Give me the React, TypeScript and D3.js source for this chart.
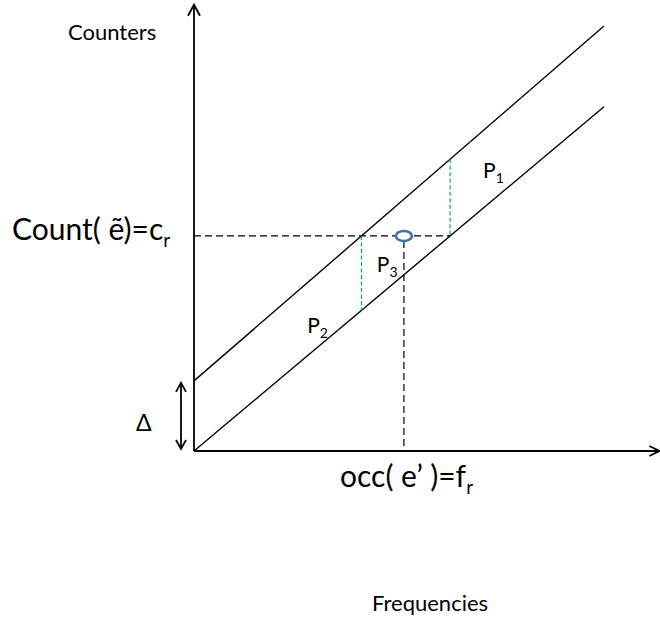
import React from "react";
import * as d3 from "d3";

const width = 660;
const height = 620;

// diagram values, in abstract units (x: frequency, y: counter)
const upperLine: [number, number][] = [
  [0, 16.5],
  [100, 100],
];
const lowerLine: [number, number][] = [
  [0, 0],
  [100, 81],
];
const deltaValue = 16.5;
const countValue = 50.6; // c_r
const freqValue = 51.2; // f_r
const axisEnds = [113.5, 105]; // x axis, y axis
const regionNames = ["1", "2", "3"];
const regionX = [70.5, 27.6, 44.6];
const regionY = [64.2, 27.8, 42.1];

const FONT = "Lato, 'Open Sans', sans-serif";

// x where a two-point line reaches height y
const xAtY = (l: [number, number][], y: number) =>
  l[0][0] + ((y - l[0][1]) * (l[1][0] - l[0][0])) / (l[1][1] - l[0][1]);
const yAtX = (l: [number, number][], x: number) =>
  l[0][1] + ((x - l[0][0]) * (l[1][1] - l[0][1])) / (l[1][0] - l[0][0]);

const App = () => {
  const x = d3.scaleLinear().domain([0, 100]).range([194, 604]);
  const y = d3.scaleLinear().domain([0, 100]).range([451, 26]);
  const line = d3
    .line<[number, number]>()
    .x((d) => x(d[0]))
    .y((d) => y(d[1]));

  const x0 = x(0);
  const y0 = y(0);
  const xEnd = x(axisEnds[0]);
  const yEnd = y(axisEnds[1]);

  // green verticals: where the c_r level crosses each line
  const leftX = xAtY(upperLine, countValue);
  const rightX = xAtY(lowerLine, countValue);
  const greens = [
    [leftX, countValue, yAtX(lowerLine, leftX)],
    [rightX, yAtX(upperLine, rightX), countValue],
  ];

  const ax = x0 - 13; // delta arrow
  const yd = y(deltaValue);

  return (
    <svg
      width={width}
      height={height}
      style={{ position: "absolute", left: 0, top: 0, background: "#fff" }}
      fontFamily={FONT}
    >
      {/* axes */}
      <g stroke="#000" strokeWidth={1.8} fill="none">
        <line x1={x0} y1={y0} x2={x0} y2={yEnd} />
        <path d={`M${x0 - 6},${yEnd + 11}L${x0},${yEnd}L${x0 + 6},${yEnd + 11}`} />
        <line x1={x0} y1={y0} x2={xEnd} y2={y0} />
        <path d={`M${xEnd - 10},${y0 - 5}L${xEnd},${y0}L${xEnd - 10},${y0 + 5}`} />
      </g>

      {/* delta double arrow */}
      <g stroke="#000" strokeWidth={1.8} fill="none">
        <line x1={ax} y1={yd + 2} x2={ax} y2={y0 - 2} />
        <path d={`M${ax - 5},${yd + 11}L${ax},${yd + 2}L${ax + 5},${yd + 11}`} />
        <path d={`M${ax - 5},${y0 - 11}L${ax},${y0 - 2}L${ax + 5},${y0 - 11}`} />
      </g>
      <text x={136} y={431} fontSize={23}>
        Δ
      </text>

      {/* the two lines */}
      <g stroke="#000" strokeWidth={1.4} fill="none">
        <path d={line(upperLine) ?? ""} />
        <path d={line(lowerLine) ?? ""} />
      </g>

      {/* dashed guides */}
      <g stroke="#000" strokeWidth={1.2} strokeDasharray="7,4" fill="none">
        <line x1={x0} y1={y(countValue)} x2={x(rightX)} y2={y(countValue)} />
        <line x1={x(freqValue)} y1={y(countValue) + 5} x2={x(freqValue)} y2={y0 - 4} />
      </g>
      <g stroke="#00b050" strokeWidth={1.2} strokeDasharray="4,2.5" fill="none">
        {greens.map((g, i) => (
          <line key={i} x1={x(g[0])} y1={y(g[1])} x2={x(g[0])} y2={y(g[2])} />
        ))}
      </g>

      <ellipse
        cx={x(freqValue)}
        cy={y(countValue)}
        rx={8}
        ry={5}
        fill="#fff"
        stroke="#41719c"
        strokeWidth={2.5}
      />

      {/* region labels */}
      {regionNames.map((n, i) => (
        <text key={n} x={x(regionX[i])} y={y(regionY[i])} fontSize={21}>
          P
          <tspan fontSize={14} dy={5}>
            {n}
          </tspan>
        </text>
      ))}

      {/* text */}
      <text x={68} y={40} fontSize={22}>
        Counters
      </text>
      <text x={372} y={611} fontSize={22}>
        Frequencies
      </text>
      <text x={12} y={240} fontSize={30}>
        Count( ẽ)=c
        <tspan fontSize={19} dy={7}>
          r
        </tspan>
      </text>
      <text x={340} y={487} fontSize={30}>
        occ( e’ )=f
        <tspan fontSize={19} dy={7}>
          r
        </tspan>
      </text>
    </svg>
  );
};

export default App;
